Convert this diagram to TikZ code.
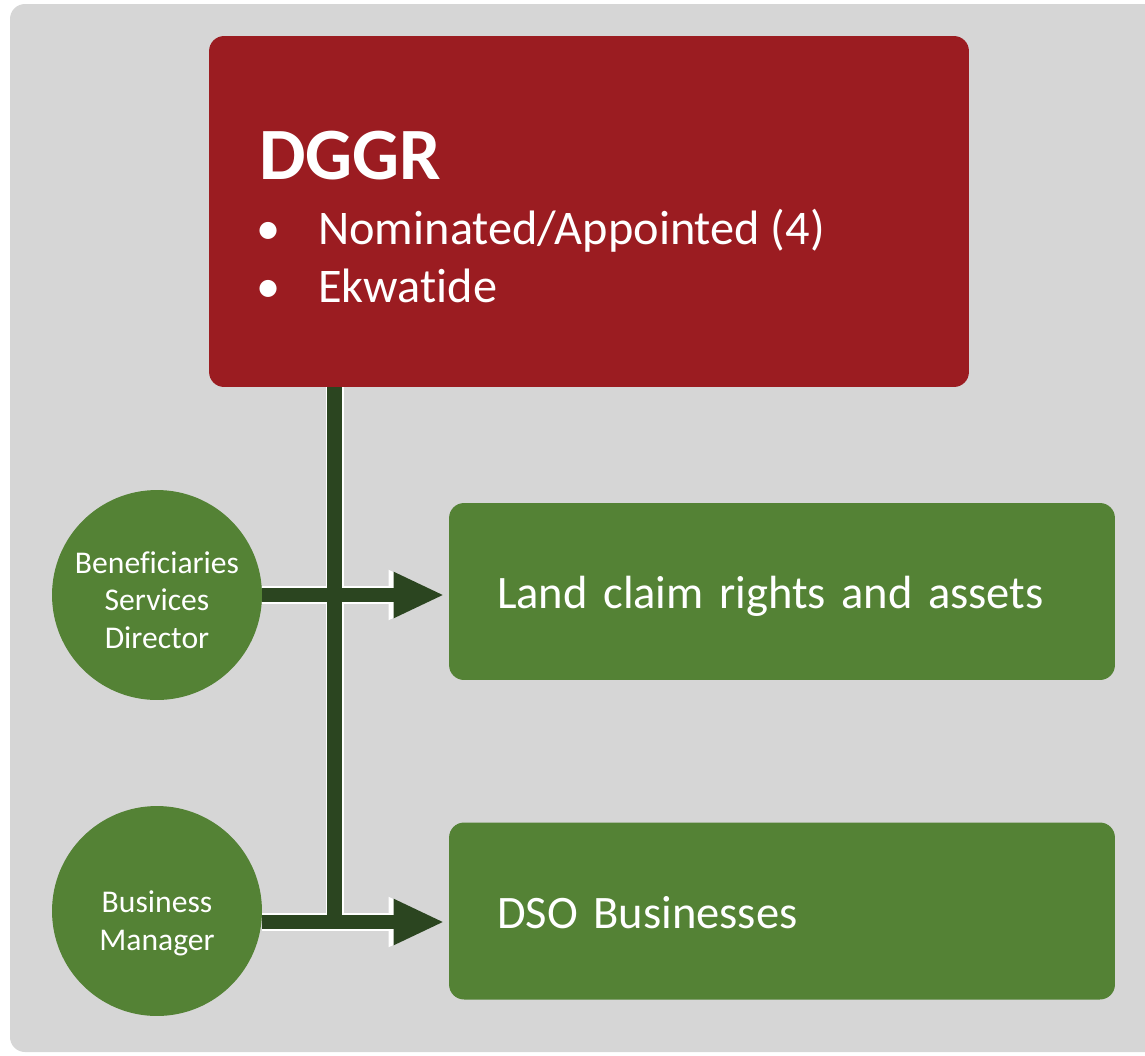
\documentclass[tikz,border=0pt]{standalone}
\usepackage{fontspec}
\setmainfont{Carlito}[Ligatures=NoCommon]
\usepackage{xcolor}
\usepackage{tikz}
\usetikzlibrary{arrows.meta}
\usetikzlibrary{positioning}
\definecolor{PanelGrey}{HTML}{D6D6D6}
\definecolor{DggrRed}{HTML}{9B1C21}
\definecolor{BoxGreen}{HTML}{548235}
\definecolor{LinkGreen}{HTML}{2B4520}
\tikzset{
  RedBox/.style={
    rectangle, rounded corners=0.3cm,
    fill=DggrRed,
    minimum width=15.2cm, minimum height=7.02cm,
  },
  RedText/.style={
    anchor=base west, inner sep=0pt, text=white,
  },
  GreenBox/.style={
    rectangle, rounded corners=0.3cm,
    fill=BoxGreen, text=white,
    text width=11.4cm, inner xsep=0.96cm, align=left,
    minimum height=3.54cm,
    text height=19.8pt, text depth=0pt,
    font=\fontsize{26.5}{32}\selectfont,
  },
  RoleCircle/.style={
    circle, fill=BoxGreen,
    minimum size=4.2cm, inner sep=0pt,
  },
  RoleText/.style={
    text=white, align=center, inner sep=0pt,
    font=\fontsize{18}{21.5}\selectfont,
  },
  LinkOutline/.style={
    draw=white, line width=10.2pt,
  },
  Link/.style={
    draw=LinkGreen, line width=8.4pt,
  },
}

\begin{document}
\begin{tikzpicture}[x=0.02cm, y=-0.02cm]
\useasboundingbox (0,0) rectangle (1145,1055);
\fill[PanelGrey, rounded corners=0.3cm] (10,4) rectangle (1170,1052);
\node[RedBox] (dggr) at (589,211.5) {};
\node[RedText, font=\fontsize{42}{50}\selectfont\bfseries] (dggrtitle) at (259,179) {DGGR};
\node[RedText, font=\fontsize{27.5}{33}\selectfont] (nominated) at (256,244) {\makebox[1.24cm][l]{\textbullet}Nominated/Appointed (4)};
\node[RedText, font=\fontsize{27.5}{33}\selectfont] (ekwatide) at (256,302) {\makebox[1.24cm][l]{\textbullet}Ekwatide};
\node[GreenBox] (land) at (782,591.5) {Land claim rights and assets};
\node[GreenBox] (dso) at (782,911) {DSO Businesses};
\node[RoleCircle] (bsd) at (157,595) {};
\node[RoleCircle] (bm) at (157,911) {};
\node[RoleText] (bsdtext) at ([yshift=-0.1cm]bsd) {Beneficiaries\\Services\\Director};
\node[RoleText] (bmtext) at ([yshift=-0.24cm]bm) {Business\\Manager};
\coordinate (trunk) at ([xshift=2.52cm]dggr.south west);
\coordinate (bmout) at ([yshift=-0.22cm]bm.east);
% white edges first, then the dark links on top
\draw[LinkOutline] (trunk) -- (trunk |- bmout);
\draw[LinkOutline, -{Triangle[length=30pt,width=28.8pt,line width=0pt]}, shorten >=0.15cm] (bsd.east) -- (bsd.east -| land.west);
\draw[LinkOutline, -{Triangle[length=30pt,width=28.8pt,line width=0pt]}, shorten >=0.15cm] (bmout) -- (bmout -| dso.west);
\draw[Link] (trunk) -- (trunk |- bmout);
\draw[Link, -{Triangle[length=28pt,width=26.6pt,line width=0pt]}, shorten >=0.12cm] (bsd.east) -- (bsd.east -| land.west);
\draw[Link, -{Triangle[length=28pt,width=26.6pt,line width=0pt]}, shorten >=0.12cm] (bmout) -- (bmout -| dso.west);
\end{tikzpicture}
\end{document}
